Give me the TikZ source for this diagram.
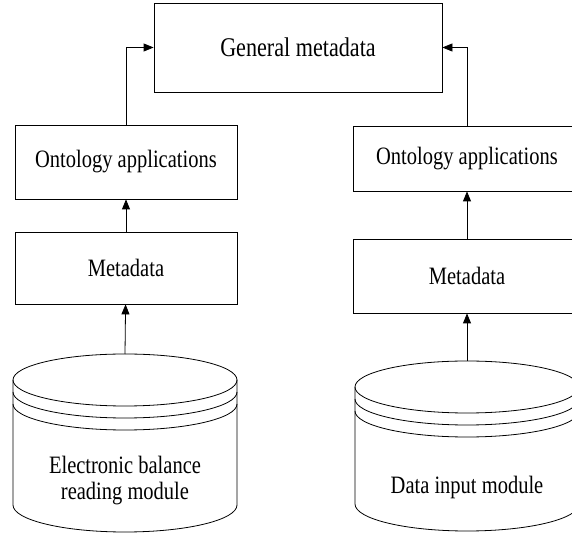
\documentclass[tikz,border=0pt]{standalone}
\usepackage{fontspec}
\setmainfont{Liberation Serif}[FakeStretch=0.82]
\usepackage{tikz}
\usetikzlibrary{arrows.meta}

\tikzset{
  box/.style={draw,line width=0.8pt,inner sep=0pt,font=\fontsize{25}{26}\selectfont},
  cyltext/.style={align=center,inner sep=0pt,font=\fontsize{25}{26}\selectfont},
  up/.style={line width=0.8pt,-{Triangle[length=10pt,width=8pt]}},
  pics/disk/.style={code={
    \draw[line width=0.8pt] (0,0) ellipse (112pt and 26pt);
    \draw[line width=0.8pt] (-112,-12) arc (180:360:112pt and 26pt);
    \draw[line width=0.8pt] (-112,-24) arc (180:360:112pt and 26pt);
    \draw[line width=0.8pt] (-112,0) -- (-112,-#1) arc (180:360:112pt and 27pt) -- (112,0);
    \coordinate (-top) at (0,26);
  }}
}

\begin{document}
\begin{tikzpicture}[x=1pt,y=1pt]
  \clip (0,0) rectangle (572,535);
  \node[box,minimum width=288,minimum height=89,font=\fontsize{27}{28}\selectfont] (gm) at (298,487.5) {General metadata};

  %left
  \node[box,minimum width=222,minimum height=74] (lo) at (126,373) {Ontology applications};
  \node[box,minimum width=222,minimum height=72] (lm) at (126,267) {Metadata};
  \pic (ld) at (125,155) {disk=125};
  \node[cyltext] (ldt) at (125,54) {Electronic balance\\reading module};

  %right
  \node[box,minimum width=228,minimum height=65] (ro) at (467,376.5) {Ontology applications};
  \node[box,minimum width=228,minimum height=74] (rm) at (467,259) {Metadata};
  \pic (rd) at (467,148) {disk=117};
  \node[cyltext] (rdt) at (467,48) {Data input module};

  %arrows
  \draw[up] (ld-top) -- (lm);
  \draw[up] (lm) -- (lo);
  \draw[up] (lo.north) |- (gm.west);
  \draw[up] (rd-top) -- (rm);
  \draw[up] (rm) -- (ro);
  \draw[up] (ro.north) |- (gm.east);
\end{tikzpicture}
\end{document}
